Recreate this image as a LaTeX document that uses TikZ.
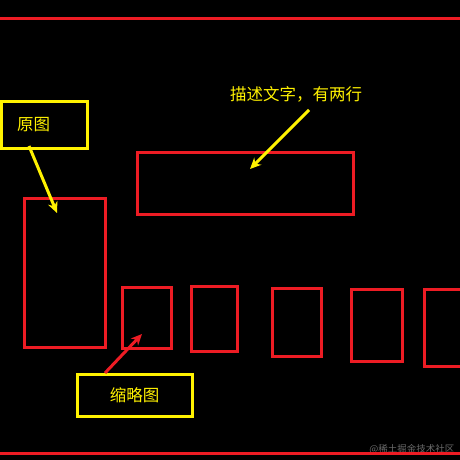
\documentclass[tikz,border=0pt]{standalone}
\usepackage{fontspec}
\setmainfont{Noto Sans CJK SC}
\usepackage{tikz}
\usetikzlibrary{arrows.meta}
\usepackage{xcolor}
\definecolor{framered}{HTML}{ED1C24}
\definecolor{noteyellow}{HTML}{FFF200}
\definecolor{markgray}{HTML}{6A6A6A}

\begin{document}
\begin{tikzpicture}[x=1pt, y=-1pt,
    framebox/.style={draw=framered, line width=3pt, inner sep=0pt},
    notebox/.style={draw=noteyellow, line width=3pt, text=noteyellow, font=\fontsize{16.5}{18}\selectfont},
    notetext/.style={text=noteyellow, font=\fontsize{16.5}{18}\selectfont},
    pointer/.style={-{Stealth[length=11pt, width=10pt]}, line width=3pt}]
    \fill[black] (0,0) rectangle (460,460);
    \useasboundingbox (0,0) rectangle (460,460);

    % top and bottom rules
    \draw[framered, line width=3pt] (0,19) -- (460,19);
    \node[text=markgray, font=\fontsize{9.5}{10}\selectfont, anchor=east] (mark) at (458,449) {@稀土掘金技术社区};
    \draw[framered, line width=3pt] (0,453) -- (460,453);

    % picture frames
    \node[framebox, minimum width=81, minimum height=149] (original) at (65,273) {};
    \node[framebox, minimum width=216, minimum height=62] (caption) at (245.5,183.5) {};
    \node[framebox, minimum width=49, minimum height=61] (thumbA) at (147,318) {};
    \node[framebox, minimum width=46, minimum height=65] (thumbB) at (214.5,319) {};
    \node[framebox, minimum width=49, minimum height=68] (thumbC) at (297,322.5) {};
    \node[framebox, minimum width=51, minimum height=72] (thumbD) at (377,325.5) {};
    \node[framebox, minimum width=56, minimum height=77] (thumbE) at (452,328) {};

    % notes
    \node[notebox, anchor=west, inner xsep=16pt, text width=54, align=left, minimum height=47] (orignote) at (-0.5,124.5) {原图};
    \node[notetext] (captionnote) at (296,94) {描述文字，有两行};
    \node[notebox, minimum width=115, minimum height=42] (thumbnote) at (134.5,395) {缩略图};

    \coordinate (origtail) at (29,146);
    \coordinate (orighead) at (57,213);
    \coordinate (captiontail) at (309,110);
    \coordinate (captionhead) at (250,169);
    \coordinate (thumbtail) at (105,373);
    \coordinate (thumbhead) at (142,334);

    \draw[pointer, noteyellow] (origtail) -- (orighead);
    \draw[pointer, noteyellow] (captiontail) -- (captionhead);
    \draw[pointer, framered] (thumbtail) -- (thumbhead);
\end{tikzpicture}
\end{document}
